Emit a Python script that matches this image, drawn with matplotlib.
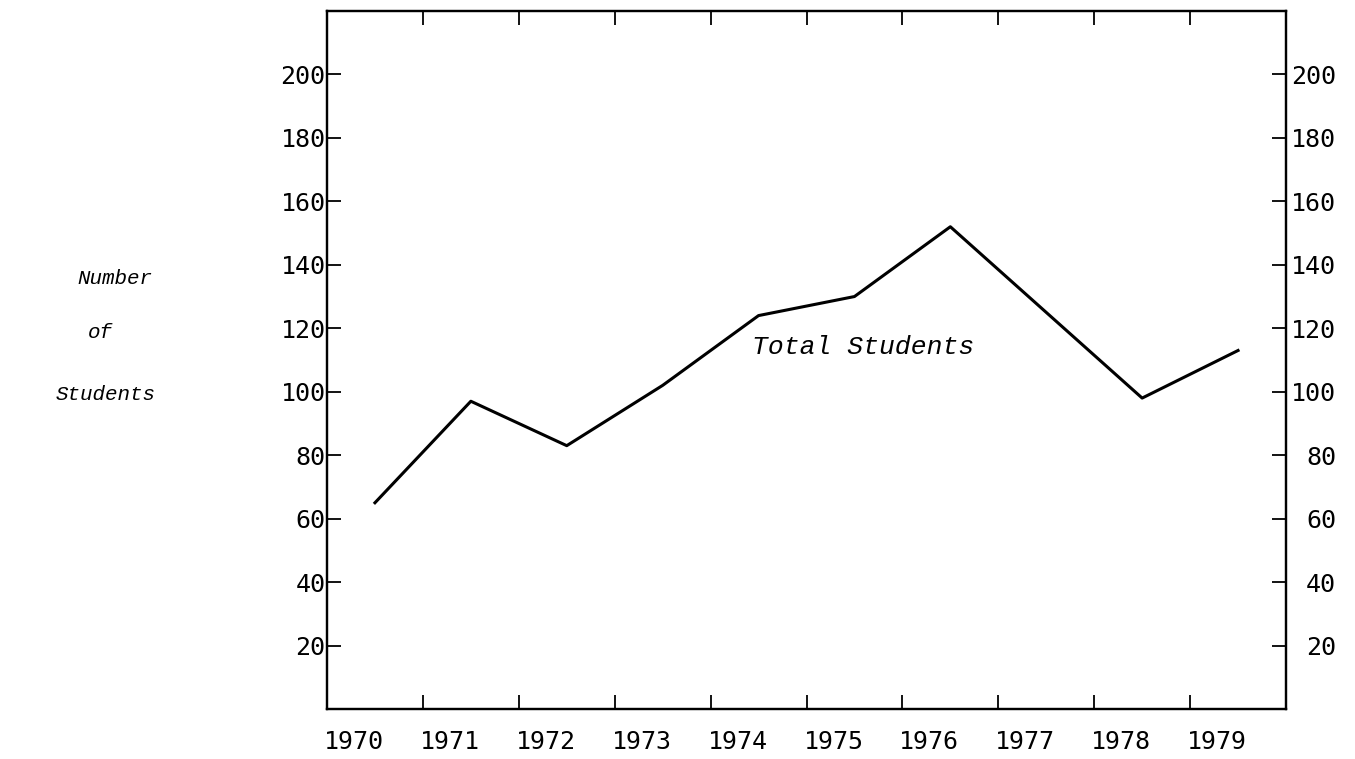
import matplotlib.pyplot as plt
import matplotlib.transforms as mtransforms
import numpy as np

years = [1970, 1971, 1972, 1973, 1974, 1975, 1976, 1977, 1978, 1979]
students = [65, 97, 83, 102, 124, 130, 152, 125, 98, 113]
y_ticks = [20, 40, 60, 80, 100, 120, 140, 160, 180, 200]

num_font = "DejaVu Sans Mono"
txt_font = "Liberation Mono"

fig = plt.figure(figsize=(13.55, 7.59), dpi=100)
ax = fig.add_axes([327 / 1355, 1 - 709 / 759, (1286 - 327) / 1355, (709 - 11) / 759])

ax.plot(years, students, color="black", linewidth=2.2)

ax.set_xlim(1969.5, 1979.5)
ax.set_ylim(0, 220)

# year labels sit between the tick marks, a bit left of centre
ax.set_xticks(years)
ax.set_xticklabels([str(y) for y in years], fontfamily=num_font, fontsize=18)
ax.tick_params(axis="x", which="major", length=0, pad=15)
shift = mtransforms.ScaledTranslation(-0.21, 0, fig.dpi_scale_trans)
for lab in ax.get_xticklabels():
    lab.set_transform(lab.get_transform() + shift)

ax.set_xticks(np.arange(1970.5, 1979, 1.0), minor=True)
ax.tick_params(axis="x", which="minor", direction="in", length=10, width=1.3,
               top=True, bottom=True)

ax.set_yticks(y_ticks)
ax.set_yticklabels([str(v) for v in y_ticks], fontfamily=num_font, fontsize=18)
ax.tick_params(axis="y", direction="in", length=10, width=1.3, pad=1)

ax2 = ax.twinx()
ax2.set_ylim(ax.get_ylim())
ax2.set_yticks(y_ticks)
ax2.set_yticklabels([str(v) for v in y_ticks], fontfamily=num_font, fontsize=18)
ax2.tick_params(axis="y", direction="in", length=10, width=1.3, pad=36)
for lab in ax2.get_yticklabels():
    lab.set_horizontalalignment("right")

for a in (ax, ax2):
    for sp in a.spines.values():
        sp.set_linewidth(1.6)

ax.text(1973.93, 114, "Total Students", fontfamily=txt_font, style="italic",
        fontsize=19, va="center", ha="left")

fig.text(115 / 1355, 1 - 278 / 759, "Number", fontfamily=txt_font, style="italic",
         fontsize=15, ha="center", va="center")
fig.text(100 / 1355, 1 - 333 / 759, "of", fontfamily=txt_font, style="italic",
         fontsize=15, ha="center", va="center")
fig.text(106 / 1355, 1 - 394 / 759, "Students", fontfamily=txt_font, style="italic",
         fontsize=15, ha="center", va="center")

fig.savefig("out.png", dpi=100)
